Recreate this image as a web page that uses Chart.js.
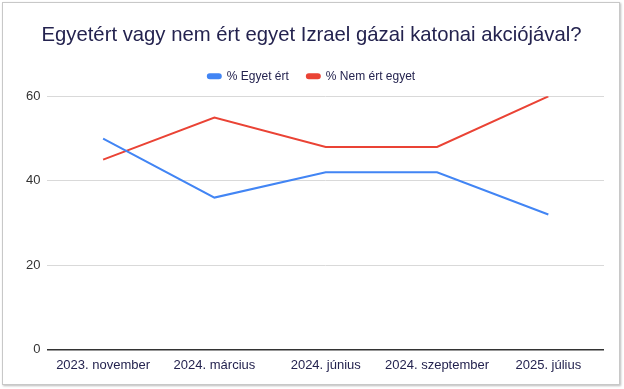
<!DOCTYPE html>
<html>
<head>
<meta charset="utf-8">
<script src="https://cdn.jsdelivr.net/npm/chart.js@4"></script>
<style>
  body { margin: 0; background: #fff; }
  .frame {
    position: absolute; left: 2px; top: 2px; width: 616px; height: 381px;
    border: 1px solid #c8c8c8; box-shadow: 1px 1px 2px #bbb; background: #fff;
  }
</style>
</head>
<body>
<div class="frame"><canvas id="chart" width="616" height="381"></canvas></div>
<script>
const categories = ['2023. november', '2024. március', '2024. június', '2024. szeptember', '2025. július'];
const agree = [50, 36, 42, 42, 32];
const disagree = [45, 55, 48, 48, 60];
const yTicks = [0, 20, 40, 60];

const navy = '#24234f';
const font = 'Liberation Sans, Arial';

// a little extra room under the legend
const legendGap = {
  id: 'legendGap',
  beforeInit(chart) {
    const fit = chart.legend.fit;
    chart.legend.fit = function () {
      fit.call(this);
      this.height += 4;
    };
  }
};

new Chart(document.getElementById('chart'), {
  type: 'line',
  data: {
    labels: categories,
    datasets: [
      { label: '% Egyet ért', data: agree, borderColor: '#4285f4', backgroundColor: '#4285f4', borderWidth: 2, pointRadius: 0, tension: 0 },
      { label: '% Nem ért egyet', data: disagree, borderColor: '#ea4335', backgroundColor: '#ea4335', borderWidth: 2, pointRadius: 0, tension: 0 }
    ]
  },
  options: {
    responsive: false,
    animation: false,
    layout: { padding: { left: 16, right: 15, top: 0, bottom: 11 } },
    plugins: {
      title: {
        display: true,
        text: 'Egyetért vagy nem ért egyet Izrael gázai katonai akciójával?',
        color: navy,
        font: { family: font, size: 20.3, weight: 'normal' },
        padding: { top: 20, bottom: 5 }
      },
      legend: {
        labels: {
          color: navy,
          font: { family: font, size: 12 },
          boxWidth: 13, boxHeight: 4,
          useBorderRadius: true, borderRadius: 2,
          padding: 18
        }
      },
      tooltip: { enabled: false }
    },
    scales: {
      x: {
        offset: true,
        grid: { display: false },
        border: { display: false },
        ticks: { color: navy, font: { family: font, size: 13 }, padding: 0, maxRotation: 0 }
      },
      y: {
        min: 0, max: 60,
        afterBuildTicks: axis => { axis.ticks = yTicks.map(v => ({ value: v })); },
        border: { display: false },
        grid: {
          drawTicks: false,
          color: c => c.tick && c.tick.value === 0 ? '#333' : '#d9d9d9',
          lineWidth: c => c.tick && c.tick.value === 0 ? 1.5 : 1
        },
        ticks: { color: '#333', font: { family: font, size: 13 }, padding: 7 }
      }
    }
  },
  plugins: [legendGap]
});
</script>
</body>
</html>
